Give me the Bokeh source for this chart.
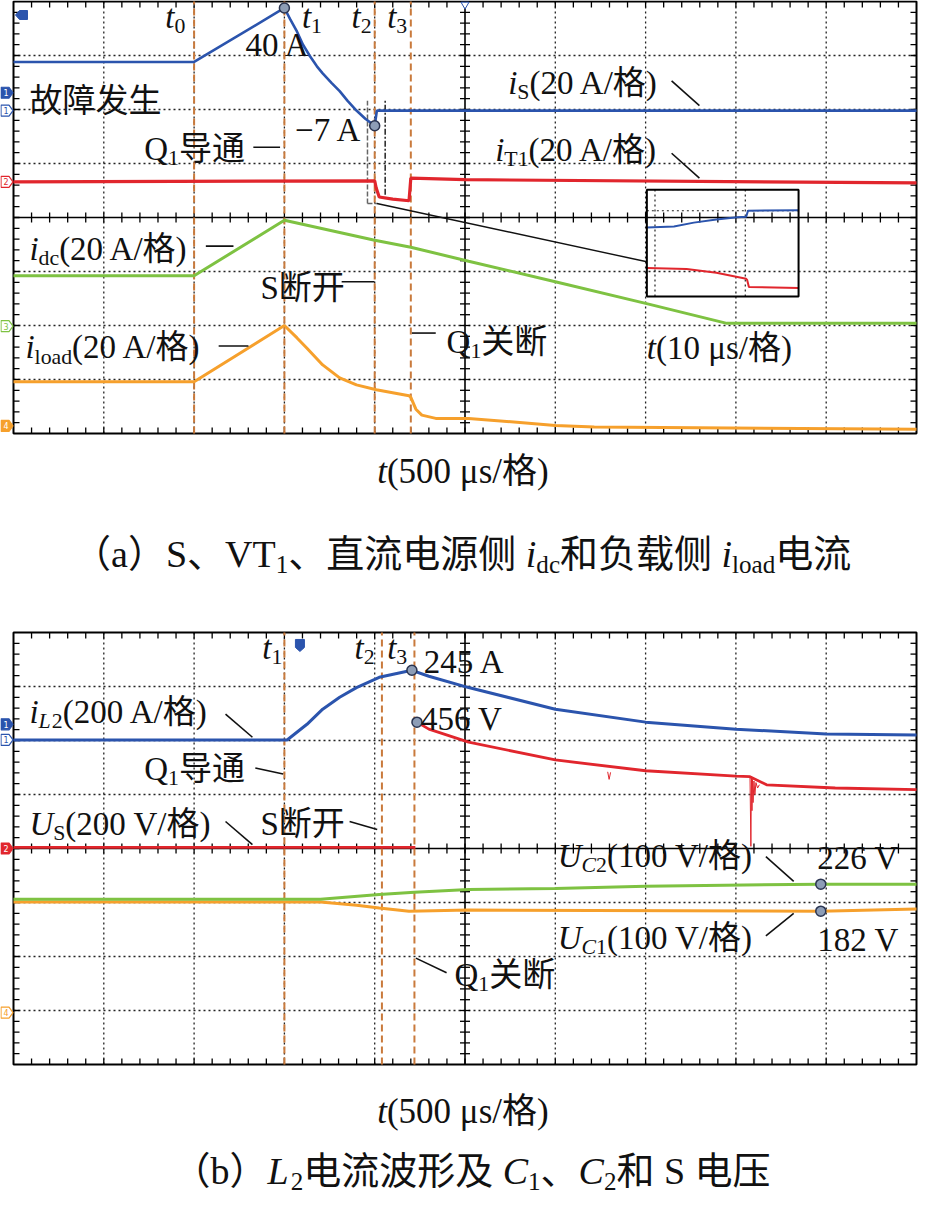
import numpy as np
from bokeh.plotting import figure
from bokeh.models import Range1d
from bokeh.core.properties import value
from bokeh.embed import file_html
from bokeh.resources import INLINE

# ---------------- values read from the two oscilloscope screens ----------------
# time: µs (500 µs per division, 10 divisions); vertical: screen divisions (centre line = 0)
T_END = 5000
US_PER_DIV = 500

# (a) S, VT1, dc-source side and load side currents (20 A/div)
A_iS_t = [0, 1000, 1500, 1531, 1570, 1603, 1641, 1680, 1712, 1762, 1806, 1850, 1899, 1948, 2000, 2012, 5000]
A_iS_y = [2.88, 2.88, 3.88, 3.68, 3.44, 3.20, 2.99, 2.80, 2.67, 2.49, 2.34, 2.16, 1.98, 1.83, 1.70, 1.98, 1.98]
A_iT1_t = [0, 2000, 2008, 2025, 2100, 2190, 2200, 2500, 5000]
A_iT1_y = [0.66, 0.68, 0.55, 0.38, 0.34, 0.31, 0.73, 0.70, 0.64]
A_idc_t = [0, 1000, 1500, 2000, 2200, 2520, 3000, 3500, 3950, 5000]
A_idc_y = [-1.08, -1.08, -0.05, -0.42, -0.55, -0.81, -1.19, -1.59, -1.96, -1.96]
A_iload_t = [0, 1000, 1500, 1570, 1625, 1712, 1806, 1899, 2009, 2190, 2200, 2228, 2261, 2338, 2520, 3000, 3216, 5000]
A_iload_y = [-3.04, -3.04, -2.00, -2.23, -2.42, -2.73, -2.97, -3.10, -3.19, -3.30, -3.33, -3.55, -3.66, -3.72, -3.72, -3.85, -3.88, -3.92]
A_mark_t = [1500, 2000]              # points marked on i_S (40 A, -7 A)
A_events = [1000, 1500, 2000, 2200]  # t0, t1, t2, t3

# zoomed inset of (a): 10 µs/div
INSET_iS_u = [0, 3.0, 5.2, 7.7, 10.0, 11.0, 11.2, 16.8]
INSET_iS_v = [1.28, 1.30, 1.37, 1.43, 1.47, 1.48, 1.59, 1.60]
INSET_iT1_u = [0, 4.4, 7.7, 11.0, 11.1, 11.3, 16.8]
INSET_iT1_v = [0.53, 0.51, 0.44, 0.33, 0.31, 0.18, 0.16]

# (b) L2 current and C1, C2, S voltages
B_iL2_t = [0, 1515, 1625, 1712, 1806, 1899, 2025, 2206, 2300, 2520, 3000, 3500, 4000, 4500, 5000]
B_iL2_y = [2.01, 2.01, 2.30, 2.58, 2.80, 2.98, 3.17, 3.30, 3.19, 2.98, 2.58, 2.34, 2.21, 2.12, 2.10]
B_US_t = [0, 2225, 2229, 2234, 2300, 2520, 3000, 3500, 4000, 4078, 4170, 4550, 5000]
B_US_y = [0.02, 0.02, float("nan"), 2.34, 2.21, 1.97, 1.64, 1.44, 1.34, 1.33, 1.18, 1.12, 1.09]
B_USspk1_t = [3290, 3298, 3306]
B_USspk1_y = [1.42, 1.28, 1.41]
B_USspk2_t = [4078, 4083, 4086, 4089, 4092, 4095, 4100, 4105, 4111, 4120, 4130]
B_USspk2_y = [1.33, 0.04, 1.31, 0.70, 1.28, 0.85, 1.25, 1.00, 1.22, 1.12, 1.18]
B_UC2_t = [0, 1700, 2025, 2220, 2520, 3000, 3500, 4470, 5000]
B_UC2_y = [-0.94, -0.94, -0.85, -0.81, -0.76, -0.74, -0.70, -0.66, -0.66]
B_UC1_t = [0, 1700, 1900, 2025, 2190, 2520, 4470, 5000]
B_UC1_y = [-0.99, -0.99, -1.05, -1.10, -1.16, -1.14, -1.16, -1.12]
B_mark_iL2_t = 2206
B_mark_US_t = 2234
B_mark_UC_t = 4470
B_events = [1500, 2040, 2220]

# channel reference tags on the left edge: (level, number, colour, filled)
BLUE, RED, GREEN, ORANGE = "#2b54ad", "#e1262d", "#7ec242", "#f6a02c"
A_tags = [(2.31, "1", BLUE, True), (1.98, "1", BLUE, False), (0.66, "2", RED, False),
          (-2.01, "3", GREEN, False), (-3.86, "4", ORANGE, True)]
B_tags = [(2.30, "1", BLUE, True), (2.01, "1", BLUE, False), (0.0, "2", RED, True),
          (-3.04, "4", ORANGE, False)]

# ---------------- layout constants ----------------
W, H = 918, 1199
PXX = 90.3      # px per horizontal division
PXY = 54.0      # px per vertical division
LEFT_PX = 13
A_CENTER_PX = 217          # canvas row of panel (a) centre line
B_CENTER_PX = 848          # canvas row of panel (b) centre line
B_OFF = -(B_CENTER_PX - A_CENTER_PX) / PXY   # panel (b) drawn lower on the same canvas
FONT = "Liberation Serif, Noto Sans CJK SC"
EVENT_C = "#c97a3c"
BASELINE_FIX = 0.24        # raise text so that its alphabetic baseline sits on the given y


def px_x(px):
    return px / PXX * US_PER_DIV


def px_y(px):
    return px / PXY


def sh(vals, off):
    return [v + off for v in vals]


p = figure(width=W, height=H,
           x_range=Range1d(-px_x(LEFT_PX), T_END + px_x(W - LEFT_PX - 10 * PXX)),
           y_range=Range1d(px_y(A_CENTER_PX - H), px_y(A_CENTER_PX)),
           output_backend="svg", toolbar_location=None, min_border=0,
           x_axis_type=None, y_axis_type=None,
           background_fill_color="white", border_fill_color="white")
p.outline_line_color = None


def draw_screen(events, off):
    xs = [k * US_PER_DIV for k in range(1, 10) if k != 5]
    ys = [k + off for k in range(-3, 4) if k != 0]
    p.segment(x0=xs, y0=-4 + off, x1=xs, y1=4 + off, line_color="#222222", line_width=1.3, line_dash="2 3")
    p.segment(x0=0, y0=ys, x1=T_END, y1=ys, line_color="#222222", line_width=1.3, line_dash="2 3")
    p.segment(x0=[0, T_END / 2], y0=[off, -4 + off], x1=[T_END, T_END / 2], y1=[off, 4 + off],
              line_color="black", line_width=1.6)
    tx = [k * 100 for k in range(1, 50)]
    ty = [k / 5 + off for k in range(-19, 20)]
    L, Lx = px_y(6), px_x(6)
    kw = dict(line_color="black", line_width=1.3)
    p.segment(x0=tx, y0=4 + off, x1=tx, y1=4 + off - L, **kw)
    p.segment(x0=tx, y0=-4 + off, x1=tx, y1=-4 + off + L, **kw)
    p.segment(x0=tx, y0=off - px_y(5), x1=tx, y1=off + px_y(5), **kw)
    p.segment(x0=0, y0=ty, x1=Lx, y1=ty, **kw)
    p.segment(x0=T_END - Lx, y0=ty, x1=T_END, y1=ty, **kw)
    p.segment(x0=T_END / 2 - px_x(5), y0=ty, x1=T_END / 2 + px_x(5), y1=ty, **kw)
    p.quad(left=0, right=T_END, bottom=-4 + off, top=4 + off, fill_color=None,
           line_color="black", line_width=2)
    p.segment(x0=events, y0=-4 + off, x1=events, y1=4 + off, line_color=EVENT_C,
              line_width=2, line_dash="7 4")


def draw_tags(tags, off):
    xl = p.x_range.start + px_x(0.5)
    xs, ys, fills, lines, tx, txt, tcol = [], [], [], [], [], [], []
    for lvl, num, col, filled in tags:
        y = lvl + off
        xr, xt, hh = xl + px_x(8), xl + px_x(12), px_y(5.5)
        xs.append([xl, xr, xt, xr, xl])
        ys.append([y + hh, y + hh, y, y - hh, y - hh])
        fills.append(col if filled else "white")
        lines.append(col)
        tx.append(xl + px_x(5))
        txt.append(num)
        tcol.append("white" if filled else col)
    p.patches(xs=xs, ys=ys, fill_color=fills, line_color=lines, line_width=1.2)
    p.text(x=tx, y=[t[0] + off for t in tags], text=txt, text_color=tcol, text_font_size="8px",
           text_align="center", text_baseline="middle", text_font=value("DejaVu Sans"))


W_EM = {' ': 0.25, 'A': 0.722, 'V': 0.722, 'S': 0.556, 'T': 0.611, 'Q': 0.722, 'C': 0.667,
        'U': 0.722, 'L': 0.611, 'a': 0.444, 'b': 0.5, 'c': 0.444, 'd': 0.5, 'l': 0.278,
        'o': 0.5, 'i': 0.278, 't': 0.278, 's': 0.389, '(': 0.333, ')': 0.333, '/': 0.278,
        '−': 0.564, 'μ': 0.576}


def em(ch):
    if ord(ch) >= 0x2E80 or ch in "（）、":
        return 1.0
    return W_EM.get(ch, 0.5)


def rich(x, y, size, runs):
    cx = x
    base = y + px_y(BASELINE_FIX * size)
    for text, kind in runs:
        sub = kind.startswith("sub")
        ital = kind.endswith("i")
        fs = size * 0.66 if sub else size
        yy = base - (px_y(0.28 * size) if sub else 0)
        p.text(x=[cx], y=[yy], text=[text], text_font=value(FONT), text_font_size=f"{fs:.1f}px",
               text_font_style="italic" if ital else "normal", text_align="left",
               text_baseline="alphabetic", text_color="#111111")
        cx += px_x(sum(em(c) for c in text) * fs)


def leaders(segs, off):
    p.segment(x0=[s[0] for s in segs], y0=[s[1] + off for s in segs], x1=[s[2] for s in segs],
              y1=[s[3] + off for s in segs], line_color="#111111", line_width=1.6)


MARK = dict(size=10, marker="circle", fill_color="#8d9db6", line_color="#2a3450", line_width=1.5)

# ======================= panel (a) =======================
draw_screen(A_events, 0)

INSET_T0, INSET_SCALE, INSET_V0 = 3507, US_PER_DIV / 10, -1.465
p.segment(x0=[1960, 1960], y0=[0.26, 0.26], x1=[1960, 2012], y1=[2.16, 0.26],
          line_color="#666666", line_width=1.5, line_dash="5 2")
p.segment(x0=[2058], y0=[0.42], x1=[2058], y1=[2.16], line_color="#222222", line_width=1.5,
          line_dash="6 2 2 2")
p.segment(x0=[2012], y0=[0.26], x1=[INSET_T0], y1=[-0.82], line_color="#111111", line_width=1.4)
inset_u_grid = [0.9, 10.9]
p.segment(x0=[INSET_T0 + u * INSET_SCALE for u in inset_u_grid], y0=INSET_V0,
          x1=[INSET_T0 + u * INSET_SCALE for u in inset_u_grid], y1=INSET_V0 + 1.98,
          line_color="#222222", line_width=1.2, line_dash="2 3")
p.segment(x0=INSET_T0, y0=INSET_V0 + 1.59, x1=INSET_T0 + 16.8 * INSET_SCALE, y1=INSET_V0 + 1.59,
          line_color="#222222", line_width=1.2, line_dash="2 3")
p.line([INSET_T0 + u * INSET_SCALE for u in INSET_iS_u], [INSET_V0 + v for v in INSET_iS_v],
       line_color=BLUE, line_width=2)
p.line([INSET_T0 + u * INSET_SCALE for u in INSET_iT1_u], [INSET_V0 + v for v in INSET_iT1_v],
       line_color=RED, line_width=2)
p.quad(left=INSET_T0, right=INSET_T0 + 16.8 * INSET_SCALE, bottom=INSET_V0, top=INSET_V0 + 1.98,
       fill_color=None, line_color="black", line_width=2)

p.line(A_idc_t, A_idc_y, line_color=GREEN, line_width=3)
p.line(A_iload_t, A_iload_y, line_color=ORANGE, line_width=3)
p.line(A_iT1_t, A_iT1_y, line_color=RED, line_width=3.2)
p.line(A_iS_t, A_iS_y, line_color=BLUE, line_width=2.6)
p.scatter(A_mark_t, list(np.interp(A_mark_t, A_iS_t, A_iS_y)), **MARK)

draw_tags(A_tags, 0)
p.patch([px_x(2), px_x(6), px_x(14), px_x(14), px_x(6)],
        [3.75, 3.75 + px_y(4.5), 3.75 + px_y(4.5), 3.75 - px_y(4.5), 3.75 - px_y(4.5)],
        fill_color=BLUE, line_color=BLUE)
p.scatter([T_END / 2], [4 - px_y(3)], marker="inverted_triangle", size=8, fill_color="white",
          line_color=BLUE)

A_labels = [
    (840, 3.57, 33, [("t", "i"), ("0", "sub")]),
    (1597, 3.57, 33, [("t", "i"), ("1", "sub")]),
    (1872, 3.57, 33, [("t", "i"), ("2", "sub")]),
    (2069, 3.57, 33, [("t", "i"), ("3", "sub")]),
    (1284, 3.04, 33, [("40 A", "n")]),
    (88, 2.02, 33, [("故障发生", "n")]),
    (724, 1.12, 33, [("Q", "n"), ("1", "sub"), ("导通", "n")]),
    (1559, 1.47, 33, [("−7 A", "n")]),
    (2739, 2.34, 33, [("i", "i"), ("S", "sub"), ("(20 A/格)", "n")]),
    (2667, 1.10, 33, [("i", "i"), ("T1", "sub"), ("(20 A/格)", "n")]),
    (88, -0.73, 33, [("i", "i"), ("dc", "sub"), ("(20 A/格)", "n")]),
    (1367, -1.46, 33, [("S断开", "n")]),
    (66, -2.55, 33, [("i", "i"), ("load", "sub"), ("(20 A/格)", "n")]),
    (2398, -2.45, 33, [("Q", "n"), ("1", "sub"), ("关断", "n")]),
    (3507, -2.56, 33, [("t", "i"), ("(10 μs/格)", "n")]),
    (2014, -4.86, 35, [("t", "i"), ("(500 μs/格)", "n")]),
    (330, -6.40, 38, [("（a）S、VT", "n"), ("1", "sub"), ("、直流电源侧 ", "n"), ("i", "i"),
                      ("dc", "sub"), ("和负载侧 ", "n"), ("i", "i"), ("load", "sub"), ("电流", "n")]),
]
for x, y, s, runs in A_labels:
    rich(x, y, s, runs)
leaders([(1328, 1.30, 1476, 1.30), (3644, 2.53, 3798, 2.07), (3644, 1.19, 3798, 0.73),
         (1065, -0.53, 1218, -0.53), (1817, -1.19, 1998, -1.19), (1136, -2.38, 1301, -2.38),
         (2206, -2.14, 2338, -2.14)], 0)

# ======================= panel (b) =======================
draw_screen(B_events, B_OFF)

p.line(B_UC1_t, sh(B_UC1_y, B_OFF), line_color=ORANGE, line_width=3)
p.line(B_UC2_t, sh(B_UC2_y, B_OFF), line_color=GREEN, line_width=3)
p.multi_line([B_USspk1_t, B_USspk2_t], [sh(B_USspk1_y, B_OFF), sh(B_USspk2_y, B_OFF)],
             line_color=RED, line_width=1)
p.line(B_US_t, sh(B_US_y, B_OFF), line_color=RED, line_width=2.8)
p.line(B_iL2_t, sh(B_iL2_y, B_OFF), line_color=BLUE, line_width=3)
mk_x = [B_mark_iL2_t, B_mark_US_t, B_mark_UC_t, B_mark_UC_t]
mk_y = [float(np.interp(B_mark_iL2_t, B_iL2_t, B_iL2_y)),
        float(np.interp(B_mark_US_t, B_US_t[3:], B_US_y[3:])),
        float(np.interp(B_mark_UC_t, B_UC2_t, B_UC2_y)),
        float(np.interp(B_mark_UC_t, B_UC1_t, B_UC1_y))]
p.scatter(mk_x, sh(mk_y, B_OFF), **MARK)

draw_tags(B_tags, B_OFF)
bx, by = 1586, 3.76 + B_OFF
p.patch([bx - px_x(4.5), bx + px_x(4.5), bx + px_x(4.5), bx, bx - px_x(4.5)],
        [by + px_y(6), by + px_y(6), by - px_y(2), by - px_y(6), by - px_y(2)],
        fill_color=BLUE, line_color=BLUE)

B_labels = [
    (1378, 3.57, 33, [("t", "i"), ("1", "sub")]),
    (1888, 3.57, 33, [("t", "i"), ("2", "sub")]),
    (2069, 3.57, 33, [("t", "i"), ("3", "sub")]),
    (2272, 3.30, 33, [("245 A", "n")]),
    (2256, 2.25, 33, [("456 V", "n")]),
    (88, 2.38, 33, [("i", "i"), ("L", "subi"), ("2", "sub"), ("(200 A/格)", "n")]),
    (724, 1.33, 33, [("Q", "n"), ("1", "sub"), ("导通", "n")]),
    (88, 0.31, 33, [("U", "i"), ("S", "sub"), ("(200 V/格)", "n")]),
    (1367, 0.30, 33, [("S断开", "n")]),
    (3013, -0.29, 33, [("U", "i"), ("C", "subi"), ("2", "sub"), ("(100 V/格)", "n")]),
    (4451, -0.33, 33, [("226 V", "n")]),
    (3013, -1.80, 33, [("U", "i"), ("C", "subi"), ("1", "sub"), ("(100 V/格)", "n")]),
    (4451, -1.84, 33, [("182 V", "n")]),
    (2442, -2.49, 33, [("Q", "n"), ("1", "sub"), ("关断", "n")]),
    (2014, -5.03, 35, [("t", "i"), ("(500 μs/格)", "n")]),
    (880, -6.14, 38, [("（b）", "n"), ("L", "i"), ("2", "sub"), ("电流波形及 ", "n"), ("C", "i"),
                      ("1", "sub"), ("、", "n"), ("C", "i"), ("2", "sub"), ("和 S 电压", "n")]),
]
for x, y, s, runs in B_labels:
    rich(x, y + B_OFF, s, runs)
leaders([(1174, 2.49, 1323, 2.06), (1339, 1.49, 1493, 1.38), (1174, 0.50, 1323, 0.07),
         (1861, 0.50, 2014, 0.35), (4166, -0.15, 4320, -0.61), (4166, -1.62, 4320, -1.20),
         (2228, -2.03, 2398, -2.30)], B_OFF)

open("out.html", "w").write(file_html(p, INLINE))
